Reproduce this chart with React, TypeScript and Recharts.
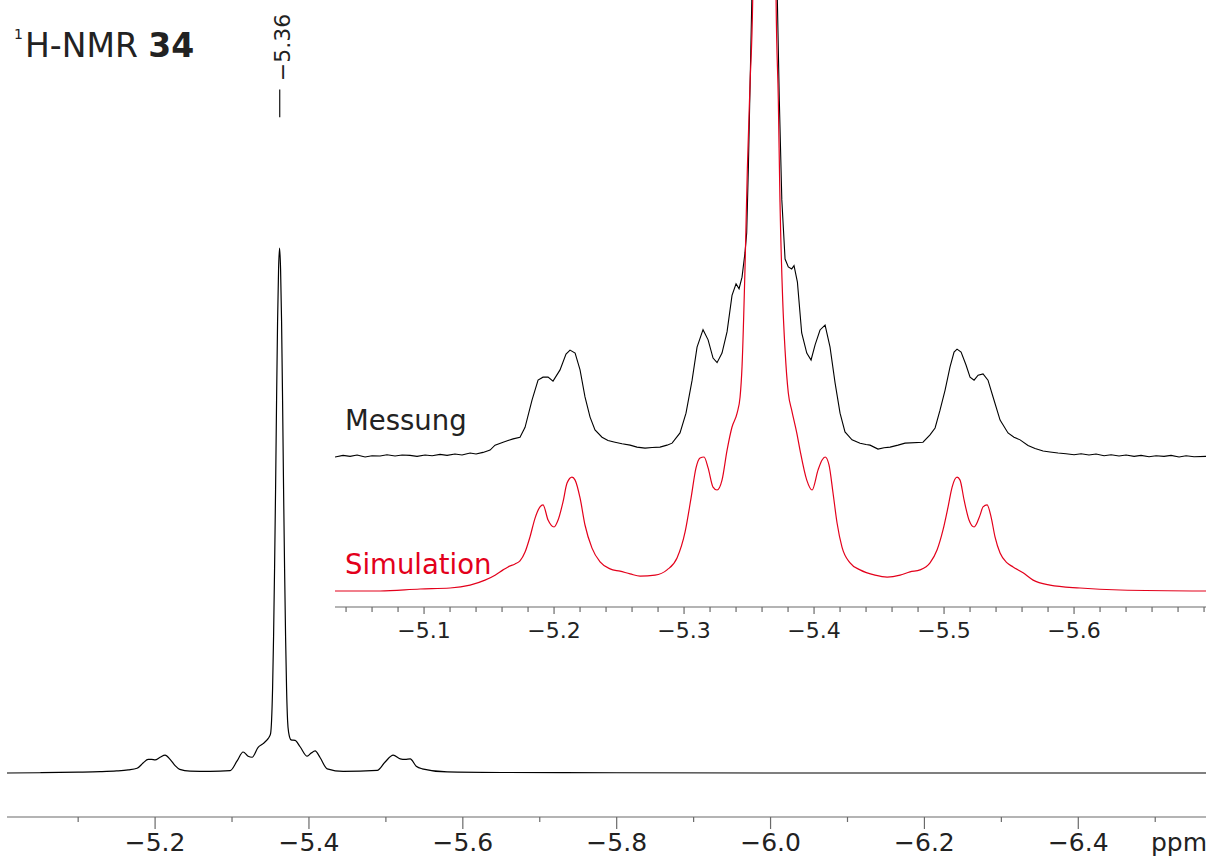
import { LineChart, Line, XAxis, YAxis, ReferenceLine } from 'recharts';

// main spectrum, [ppm, intensity] (main peak = 100)
const mainSpectrum = [
  [-5.0075, 0.0], [-5.05, 0.05], [-5.1, 0.15], [-5.1285, 0.25], [-5.15, 0.4], [-5.165, 0.6],
  [-5.1766, 0.9], [-5.1844, 1.9], [-5.191, 2.6], [-5.1955, 2.6], [-5.2, 2.5], [-5.2065, 3.0],
  [-5.213, 3.4], [-5.2195, 2.6], [-5.226, 1.4], [-5.232, 0.7], [-5.2455, 0.35], [-5.2715, 0.3],
  [-5.2975, 0.45], [-5.3066, 2.3], [-5.3144, 4.0], [-5.3209, 3.2], [-5.3261, 3.0], [-5.3339, 4.9],
  [-5.3404, 5.6], [-5.3455, 6.3], [-5.3488, 7.0], [-5.3501, 7.5], [-5.3514, 10], [-5.3527, 16],
  [-5.354, 26], [-5.3553, 39], [-5.3566, 54], [-5.3579, 71], [-5.3592, 86], [-5.3605, 96],
  [-5.3618, 100], [-5.3631, 96], [-5.3644, 86], [-5.3657, 71], [-5.367, 54], [-5.3683, 39],
  [-5.3696, 26], [-5.3709, 16], [-5.3722, 10], [-5.3735, 7.8], [-5.3768, 6.3], [-5.382, 6.2],
  [-5.3885, 5.0], [-5.3977, 3.2], [-5.4029, 3.8], [-5.408, 4.2], [-5.4146, 2.9], [-5.4237, 0.8],
  [-5.4445, 0.3], [-5.4887, 0.5], [-5.499, 2.1], [-5.5095, 3.4], [-5.5186, 2.7], [-5.5251, 2.6],
  [-5.5316, 2.7], [-5.5394, 1.3], [-5.5472, 0.8], [-5.5797, 0.2], [-5.65, 0.1], [-5.8, 0.05],
  [-6.0, 0.0], [-6.2, 0.0], [-6.4, 0.0], [-6.566, 0.0],
];

// inset, measured trace
const measured = [
  [-5.0315, 0.0], [-5.0377, 0.05], [-5.0431, 0.02], [-5.0485, 0.06], [-5.0546, 0.0], [-5.06, 0.04],
  [-5.0662, 0.03], [-5.0715, 0.07], [-5.0777, 0.03], [-5.0831, 0.06], [-5.0892, 0.05], [-5.0946, 0.02],
  [-5.1008, 0.06], [-5.1062, 0.04], [-5.1123, 0.08], [-5.1177, 0.05], [-5.1238, 0.09], [-5.1292, 0.06],
  [-5.1354, 0.12], [-5.14, 0.09], [-5.1454, 0.14], [-5.1508, 0.21], [-5.1546, 0.36], [-5.1608, 0.45],
  [-5.1646, 0.5], [-5.1685, 0.55], [-5.1738, 0.6], [-5.1777, 0.9], [-5.1831, 1.73], [-5.1877, 2.33],
  [-5.1915, 2.42], [-5.1954, 2.42], [-5.1992, 2.3], [-5.2046, 2.64], [-5.2092, 3.12], [-5.2123, 3.24],
  [-5.2162, 3.15], [-5.22, 2.64], [-5.2238, 1.82], [-5.2277, 1.21], [-5.2315, 0.82], [-5.2369, 0.6],
  [-5.2415, 0.5], [-5.2469, 0.45], [-5.2523, 0.4], [-5.2585, 0.36], [-5.2638, 0.3], [-5.27, 0.27],
  [-5.2754, 0.29], [-5.2815, 0.3], [-5.2869, 0.36], [-5.2908, 0.42], [-5.2969, 0.73], [-5.3015, 1.33],
  [-5.3062, 2.33], [-5.31, 3.33], [-5.3146, 3.86], [-5.3185, 3.55], [-5.3223, 3.0], [-5.3254, 2.86],
  [-5.3292, 3.15], [-5.3331, 3.8], [-5.3369, 4.9], [-5.34, 5.25], [-5.3423, 5.1], [-5.3446, 5.45],
  [-5.3469, 6.2], [-5.3482, 6.8], [-5.3495, 8.8], [-5.3508, 11.3], [-5.3521, 13.8], [-5.3538, 30],
  [-5.3562, 60], [-5.3585, 85], [-5.3618, 100], [-5.3646, 85], [-5.3669, 60], [-5.3692, 30],
  [-5.3718, 13.8], [-5.3733, 10.8], [-5.3752, 7.8], [-5.3777, 6.0], [-5.3802, 5.76], [-5.3828, 5.7],
  [-5.3846, 5.8], [-5.3872, 5.3], [-5.3905, 3.76], [-5.3944, 3.15], [-5.3977, 2.94], [-5.4008, 3.4],
  [-5.4046, 3.85], [-5.4085, 4.0], [-5.4123, 3.33], [-5.4162, 2.24], [-5.42, 1.33], [-5.4238, 0.76],
  [-5.4292, 0.52], [-5.4354, 0.42], [-5.44, 0.38], [-5.4431, 0.36], [-5.4492, 0.24], [-5.4538, 0.28],
  [-5.4585, 0.3], [-5.4646, 0.36], [-5.47, 0.42], [-5.4838, 0.45], [-5.4892, 0.67], [-5.4931, 0.88],
  [-5.4969, 1.42], [-5.5008, 2.03], [-5.5046, 2.73], [-5.5077, 3.18], [-5.51, 3.27], [-5.5131, 3.18],
  [-5.5169, 2.79], [-5.52, 2.42], [-5.5231, 2.33], [-5.5262, 2.48], [-5.53, 2.52], [-5.5338, 2.33],
  [-5.5377, 1.82], [-5.5431, 1.12], [-5.5492, 0.73], [-5.5538, 0.6], [-5.5585, 0.52], [-5.5646, 0.35],
  [-5.57, 0.26], [-5.5762, 0.18], [-5.5815, 0.15], [-5.5877, 0.12], [-5.5938, 0.1], [-5.6, 0.07],
  [-5.6054, 0.1], [-5.6115, 0.06], [-5.6169, 0.09], [-5.6231, 0.04], [-5.6285, 0.07], [-5.6346, 0.03],
  [-5.64, 0.06], [-5.6462, 0.02], [-5.6515, 0.05], [-5.6577, 0.01], [-5.6631, 0.04], [-5.6692, 0.02],
  [-5.6746, 0.05], [-5.6808, 0.0], [-5.6862, 0.04], [-5.6923, 0.01], [-5.7015, 0.02],
];

// inset, simulated trace
const simulated = [
  [-5.0315, 0.0], [-5.0662, 0.0], [-5.0969, 0.06], [-5.12, 0.09], [-5.1354, 0.18], [-5.1469, 0.33],
  [-5.1546, 0.48], [-5.1608, 0.64], [-5.1646, 0.73], [-5.17, 0.82], [-5.1738, 0.91], [-5.1777, 1.18],
  [-5.1815, 1.64], [-5.1854, 2.21], [-5.1892, 2.55], [-5.1915, 2.61], [-5.1954, 2.15], [-5.2, 1.94],
  [-5.2031, 2.15], [-5.2069, 2.7], [-5.21, 3.27], [-5.2138, 3.45], [-5.2162, 3.36], [-5.22, 2.82],
  [-5.2238, 2.0], [-5.2292, 1.3], [-5.2354, 0.88], [-5.2431, 0.67], [-5.2508, 0.6], [-5.2585, 0.52],
  [-5.2662, 0.45], [-5.2777, 0.48], [-5.2869, 0.64], [-5.2946, 1.0], [-5.3008, 1.79], [-5.3054, 2.82],
  [-5.3092, 3.73], [-5.3123, 4.03], [-5.3154, 4.06], [-5.3185, 3.73], [-5.3223, 3.15], [-5.3254, 3.06],
  [-5.3292, 3.36], [-5.3331, 4.27], [-5.3369, 4.97], [-5.3408, 5.39], [-5.3431, 5.88], [-5.3446, 6.8],
  [-5.3469, 9.8], [-5.3487, 12.8], [-5.3508, 15.4], [-5.3528, 17.9], [-5.3546, 35], [-5.3569, 65],
  [-5.3592, 90], [-5.3618, 100], [-5.3642, 90], [-5.3665, 65], [-5.3688, 35], [-5.3708, 17.9],
  [-5.3725, 14.9], [-5.3738, 11.8], [-5.3759, 8.8], [-5.3777, 7.3], [-5.3802, 6.0], [-5.3828, 5.48],
  [-5.3867, 4.79], [-5.3892, 4.27], [-5.3944, 3.36], [-5.3985, 3.06], [-5.4031, 3.67], [-5.4062, 3.97],
  [-5.4085, 4.06], [-5.4115, 3.82], [-5.4146, 2.97], [-5.4177, 2.06], [-5.4215, 1.33], [-5.4277, 0.85],
  [-5.4354, 0.64], [-5.4469, 0.48], [-5.4562, 0.42], [-5.4662, 0.48], [-5.4738, 0.58], [-5.4815, 0.64],
  [-5.4892, 0.85], [-5.4946, 1.24], [-5.4992, 1.85], [-5.5031, 2.55], [-5.5062, 3.15], [-5.51, 3.45],
  [-5.5123, 3.36], [-5.5154, 2.76], [-5.5192, 2.15], [-5.5231, 1.94], [-5.5277, 2.3], [-5.53, 2.55],
  [-5.5331, 2.61], [-5.5362, 2.24], [-5.5392, 1.64], [-5.5431, 1.15], [-5.5485, 0.85], [-5.5531, 0.73],
  [-5.5608, 0.55], [-5.5685, 0.33], [-5.5815, 0.18], [-5.6046, 0.09], [-5.6354, 0.03], [-5.7015, 0.0],
];

const mainTicks = [-5.1, -5.2, -5.3, -5.4, -5.5, -5.6, -5.7, -5.8, -5.9, -6.0, -6.1, -6.2, -6.3, -6.4, -6.5];
const mainLabelled = [-5.2, -5.4, -5.6, -5.8, -6.0, -6.2, -6.4];
const insetTicks = [
  -5.04, -5.06, -5.08, -5.1, -5.12, -5.14, -5.16, -5.18, -5.2, -5.22, -5.24, -5.26, -5.28, -5.3,
  -5.32, -5.34, -5.36, -5.38, -5.4, -5.42, -5.44, -5.46, -5.48, -5.5, -5.52, -5.54, -5.56, -5.58,
  -5.6, -5.62, -5.64, -5.66, -5.68, -5.7,
];
const insetLabelled = [-5.1, -5.2, -5.3, -5.4, -5.5, -5.6];
const peakPpm = -5.362;
const peakLabel = '\u22125.36';

const RED = '#e3001b';
const AXIS = '#6a6a6a';
const TEXT = '#222';
const FONT = 'DejaVu Sans, Verdana, sans-serif';

const toRows = (arr: number[][]) => arr.map(([ppm, v]) => ({ ppm, v }));
const fmt = (v: number) => '\u2212' + Math.abs(v).toFixed(1);
const has = (list: number[], v: number) => list.some((t) => Math.abs(t - v) < 1e-6);

function makeTick(labelled: number[], major: number, minor: number, fontSize: number, dy: number) {
  return function Tick(props: any) {
    const { x, y, payload } = props;
    const big = has(labelled, payload.value);
    return (
      <g>
        <line x1={x} x2={x} y1={y} y2={y + (big ? major : minor)} stroke={AXIS} strokeWidth={1.2} />
        {big && (
          <text x={x} y={y + dy} textAnchor="middle" fontSize={fontSize} fill={TEXT} fontFamily={FONT}>
            {fmt(payload.value)}
          </text>
        )}
      </g>
    );
  };
}

const MainTick = makeTick(mainLabelled, 12, 5, 25, 34);
const InsetTick = makeTick(insetLabelled, 7, 5, 22, 31);

function PeakLabel(props: any) {
  const vb = props.viewBox || {};
  const x = vb.x + 10;
  const y = vb.y - 42;
  return (
    <text x={x} y={y} transform={`rotate(-90 ${x} ${y})`} textAnchor="middle" fontSize={22} fill={TEXT} fontFamily={FONT}>
      {peakLabel}
    </text>
  );
}

export default function App() {
  return (
    <div style={{ position: 'absolute', left: 0, top: 0, width: 1206, height: 856, background: '#fff', fontFamily: FONT }}>
      <div style={{ position: 'absolute', left: 0, top: 0 }}>
        <LineChart width={1206} height={856} margin={{ top: 0, right: 0, bottom: 0, left: 7 }}>
          <XAxis
            dataKey="ppm"
            type="number"
            domain={[-6.566, -5.0075]}
            allowDataOverflow
            reversed
            ticks={mainTicks}
            interval={0}
            height={39}
            tickSize={0}
            tickMargin={0}
            tickLine={false}
            axisLine={{ stroke: AXIS, strokeWidth: 1.2 }}
            tick={<MainTick />}
          />
          <YAxis type="number" domain={[-8.38, 147.24]} allowDataOverflow hide />
          <Line
            data={toRows(mainSpectrum)}
            dataKey="v"
            type="monotone"
            stroke="#000"
            strokeWidth={1.2}
            dot={false}
            isAnimationActive={false}
          />
          <ReferenceLine
            segment={[{ x: peakPpm, y: 130.2 }, { x: peakPpm, y: 124.9 }]}
            stroke="#111"
            strokeWidth={1.2}
            label={<PeakLabel />}
          />
        </LineChart>
      </div>
      <div style={{ position: 'absolute', left: 335, top: 0 }}>
        <LineChart width={871} height={650} margin={{ top: 0, right: 0, bottom: 0, left: 0 }}>
          <XAxis
            dataKey="ppm"
            type="number"
            domain={[-5.7015, -5.0315]}
            allowDataOverflow
            reversed
            ticks={insetTicks}
            interval={0}
            height={43}
            tickSize={0}
            tickMargin={0}
            tickLine={false}
            axisLine={{ stroke: AXIS, strokeWidth: 1.2 }}
            tick={<InsetTick />}
          />
          <YAxis yAxisId="mess" type="number" domain={[-4.545, 13.85]} allowDataOverflow hide />
          <YAxis yAxisId="sim" type="number" domain={[-0.485, 17.91]} allowDataOverflow hide />
          <Line
            yAxisId="mess"
            data={toRows(measured)}
            dataKey="v"
            type="linear"
            stroke="#000"
            strokeWidth={1.1}
            dot={false}
            isAnimationActive={false}
          />
          <Line
            yAxisId="sim"
            data={toRows(simulated)}
            dataKey="v"
            type="monotone"
            stroke={RED}
            strokeWidth={1.2}
            dot={false}
            isAnimationActive={false}
          />
        </LineChart>
      </div>
      <svg width={1206} height={856} style={{ position: 'absolute', left: 0, top: 0, pointerEvents: 'none' }}>
        <g fontFamily={FONT} fill={TEXT}>
          <text x={14} y={39} fontSize={14}>1</text>
          <text x={25} y={57} fontSize={33}>
            H-NMR <tspan fontWeight="bold">34</tspan>
          </text>
          <text x={345} y={430} fontSize={27.5}>Messung</text>
          <text x={345} y={574} fontSize={27.5} fill={RED}>Simulation</text>
          <text x={1151} y={851} fontSize={25}>ppm</text>
        </g>
      </svg>
    </div>
  );
}
